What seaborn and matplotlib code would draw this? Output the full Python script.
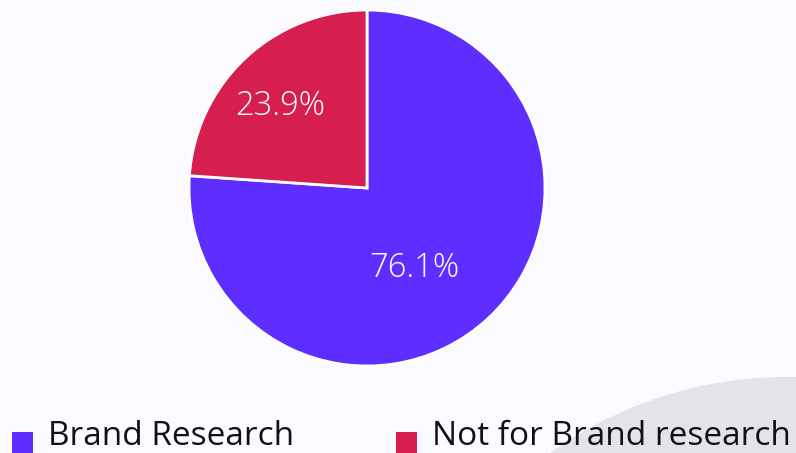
import matplotlib
matplotlib.use("Agg")
import matplotlib.pyplot as plt
from matplotlib.patches import Circle, Rectangle
import numpy as np
import seaborn as sns

# Share of respondents
categories = ["Brand Research", "Not for Brand research"]
shares = [76.1, 23.9]
colors = ["#5E2DFF", "#D61E4F"]

sns.set_theme(style="white")
plt.rcParams["font.family"] = ["Open Sans", "DejaVu Sans"]

W, H = 796, 453
fig = plt.figure(figsize=(W / 100, H / 100), dpi=100)
fig.patch.set_facecolor("#FBFAFF")
ax = fig.add_axes([0, 0, 1, 1])
ax.set_facecolor("#FBFAFF")

# soft grey backdrop shape in the lower right corner
ax.add_patch(Circle((786, H - 781), 404, facecolor="#E4E3E8", edgecolor="none", zorder=0))

cx, cy, r = 367, H - 188, 178
wedges, _ = ax.pie(
    shares,
    colors=sns.color_palette(colors),
    startangle=90,
    counterclock=False,
    center=(cx, cy),
    radius=r,
    wedgeprops=dict(edgecolor="white", linewidth=2.0),
    frame=True,
)
for w in wedges:
    w.set_zorder(2)

# percentage labels: (distance as fraction of radius, angle in degrees)
label_polar = [(0.52, -59.6), (0.67, 137.0)]
for val, (d, ang) in zip(shares, label_polar):
    a = np.deg2rad(ang)
    ax.text(cx + d * r * np.cos(a), cy + d * r * np.sin(a), f"{val:.1f}%",
            color="white", fontsize=23.5, fontweight="light",
            ha="center", va="center", zorder=3)

# legend row along the bottom edge
legend_x = [12, 396]
for x0, name, col in zip(legend_x, categories, colors):
    ax.add_patch(Rectangle((x0, 0), 21, 21, facecolor=col, edgecolor="none", zorder=3))
    ax.text(x0 + 36, 8, name, color="#111111", fontsize=24,
            ha="left", va="baseline", zorder=3)

ax.set_xlim(0, W)
ax.set_ylim(0, H)
ax.set_aspect("equal")
ax.axis("off")

fig.savefig("out.png", dpi=100, facecolor=fig.get_facecolor())
